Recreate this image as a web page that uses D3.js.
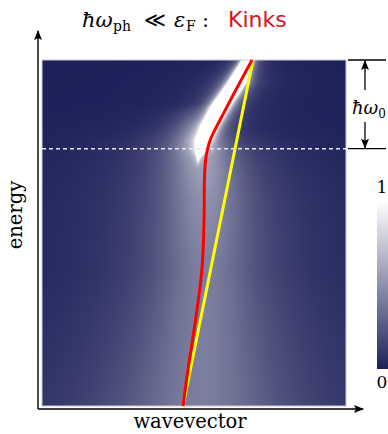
<!DOCTYPE html>
<html>
<head>
<meta charset="utf-8">
<script src="https://cdn.jsdelivr.net/npm/d3@7"></script>
<style>
  body { margin: 0; background: #fff; }
  svg { display: block; }
</style>
</head>
<body>
<div id="chart"></div>
<script>
// energies in units of the phonon energy, wavevector in arbitrary units
var omega0 = 1;
var energyRange = [-3.9, 0];
var kRange = [0, 1];

// bare band (yellow)
var bareK = [0.464, 0.694];
var bareE = [-3.9, 0];

// renormalised band with the kink (red)
var kinkE = [0, -0.259, -0.451, -0.643, -0.733, -0.812, -0.879, -0.947, -1.014, -1.105, -1.217, -1.409, -1.804, -2.367, -2.931, -3.494, -3.9];
var kinkK = [0.691, 0.650, 0.620, 0.591, 0.577, 0.565, 0.556, 0.549, 0.544, 0.539, 0.536, 0.534, 0.533, 0.526, 0.505, 0.480, 0.464];

// sharp quasiparticle part of the spectral weight (above the phonon energy)
var cohE = [0, -0.26, -0.53, -0.75, -0.90, -1.01, -1.10, -1.24];
var cohK = [0.676, 0.640, 0.586, 0.552, 0.534, 0.522, 0.515, 0.510];
var cohW = [0.019, 0.030, 0.032, 0.027, 0.021, 0.012, 0.005, 0];

// broad incoherent part (below the phonon energy)
var incE = [-0.50, -0.75, -0.90, -1.01, -1.18, -1.58, -2.37, -3.16, -3.9];
var incK = [0.500, 0.500, 0.510, 0.520, 0.528, 0.536, 0.536, 0.530, 0.520];
var incP = [0, 0.3, 0.5, 0.62, 0.58, 0.5, 0.42, 0.42, 0.42];
var incG = [0.060, 0.070, 0.085, 0.099, 0.115, 0.148, 0.181, 0.230, 0.280];

var colorTicks = ["0", "1"];

var width = 388, height = 434;
var mLeft = 42, mRight = 346, mTop = 60, mBottom = 406;

var svg = d3.select("#chart").append("svg")
  .attr("width", width).attr("height", height);

var x = d3.scaleLinear().domain(kRange).range([mLeft, mRight]);
var y = d3.scaleLinear().domain(energyRange).range([mBottom, mTop]);

var color = d3.interpolateRgb("#1e2159", "#ffffff");

// interpolators along energy
var cK = d3.scaleLinear().domain(cohE).range(cohK).clamp(true);
var cW = d3.scaleLinear().domain(cohE).range(cohW).clamp(true);
var iK = d3.scaleLinear().domain(incE).range(incK).clamp(true);
var iP = d3.scaleLinear().domain(incE).range(incP).clamp(true);
var iG = d3.scaleLinear().domain(incE).range(incG).clamp(true);

// draw the intensity map into a canvas
var cw = mRight - mLeft, ch = mBottom - mTop;
var canvas = document.createElement("canvas");
canvas.width = cw; canvas.height = ch;
var ctx = canvas.getContext("2d");
var img = ctx.createImageData(cw, ch);
var g0 = 0.006;
for (var j = 0; j < ch; j++) {
  var E = y.invert(mTop + j + 0.5);
  var k0 = cK(E), w = cW(E);
  var k1 = iK(E), p = iP(E), gam = iG(E);
  for (var i = 0; i < cw; i++) {
    var k = x.invert(mLeft + i + 0.5);
    var d0 = k - k0, d1 = k - k1;
    var v = w * w / (d0 * d0 + g0 * g0) + p * gam * gam / (d1 * d1 + gam * gam);
    var c = d3.rgb(color(Math.min(1, v)));
    var n = 4 * (j * cw + i);
    img.data[n] = c.r; img.data[n + 1] = c.g; img.data[n + 2] = c.b; img.data[n + 3] = 255;
  }
}
ctx.putImageData(img, 0, 0);

svg.append("image")
  .attr("x", mLeft).attr("y", mTop)
  .attr("width", cw).attr("height", ch)
  .attr("preserveAspectRatio", "none")
  .attr("href", canvas.toDataURL());

svg.append("rect")
  .attr("x", mLeft).attr("y", mTop)
  .attr("width", cw).attr("height", ch)
  .attr("fill", "none").attr("stroke", "#c9cad6").attr("stroke-width", 1);

// phonon energy line
svg.append("line")
  .attr("x1", mLeft).attr("x2", mRight)
  .attr("y1", y(-omega0)).attr("y2", y(-omega0))
  .attr("stroke", "#e6e6ee").attr("stroke-width", 1.6)
  .attr("stroke-dasharray", "4,3");

// bands
var line = d3.line()
  .x(function (d) { return x(d[0]); })
  .y(function (d) { return y(d[1]); });

svg.append("path")
  .datum(d3.zip(bareK, bareE))
  .attr("d", line)
  .attr("fill", "none").attr("stroke", "#ffff00").attr("stroke-width", 3);

svg.append("path")
  .datum(d3.zip(kinkK, kinkE))
  .attr("d", line.curve(d3.curveCatmullRom.alpha(0.5)))
  .attr("fill", "none").attr("stroke", "#ff0000").attr("stroke-width", 3);

// arrow heads
var defs = svg.append("defs");
defs.append("marker")
  .attr("id", "arr")
  .attr("viewBox", "0 0 10 8")
  .attr("refX", 9).attr("refY", 4)
  .attr("markerWidth", 10).attr("markerHeight", 8)
  .attr("markerUnits", "userSpaceOnUse")
  .attr("orient", "auto")
  .append("path").attr("d", "M0,0 L10,4 L0,8 L2,4 Z").attr("fill", "#000");

// axes
svg.append("line")
  .attr("x1", 38).attr("y1", 409).attr("x2", 38).attr("y2", 31)
  .attr("stroke", "#000").attr("stroke-width", 1.4).attr("marker-end", "url(#arr)");
svg.append("line")
  .attr("x1", 38).attr("y1", 409).attr("x2", 363).attr("y2", 409)
  .attr("stroke", "#000").attr("stroke-width", 1.4).attr("marker-end", "url(#arr)");

svg.append("text")
  .attr("x", 190).attr("y", 428)
  .attr("text-anchor", "middle")
  .attr("font-family", "DejaVu Serif").attr("font-size", 19.5)
  .text("wavevector");

svg.append("text")
  .attr("transform", "translate(22,215) rotate(-90)")
  .attr("text-anchor", "middle")
  .attr("font-family", "DejaVu Serif").attr("font-size", 19.5)
  .text("energy");

// ħω0 bracket
var bx = 365;
[y(0), y(-omega0)].forEach(function (yy) {
  svg.append("line")
    .attr("x1", 348).attr("x2", 386).attr("y1", yy).attr("y2", yy)
    .attr("stroke", "#000").attr("stroke-width", 1.3);
});
svg.append("line")
  .attr("x1", bx).attr("x2", bx).attr("y1", 90).attr("y2", y(0) + 1)
  .attr("stroke", "#000").attr("stroke-width", 1.3).attr("marker-end", "url(#arr)");
svg.append("line")
  .attr("x1", bx).attr("x2", bx).attr("y1", 122).attr("y2", y(-omega0) - 1)
  .attr("stroke", "#000").attr("stroke-width", 1.3).attr("marker-end", "url(#arr)");
var lab = svg.append("text")
  .attr("x", 352).attr("y", 114)
  .attr("font-family", "DejaVu Serif").attr("font-size", 18);
lab.append("tspan").attr("font-style", "italic").text("ħω");
lab.append("tspan").attr("font-size", 12).attr("dy", 4).text("0");

// title, pieces placed like the typeset formula
var title = svg.append("text")
  .attr("y", 27)
  .attr("font-family", "DejaVu Serif").attr("font-size", 21);
title.append("tspan").attr("x", 82).attr("font-style", "italic").text("ħω");
title.append("tspan").attr("x", 113).attr("font-size", 14).attr("dy", 4).text("ph");
title.append("tspan").attr("x", 144).attr("dy", -4).text("≪");
title.append("tspan").attr("x", 174).attr("font-style", "italic").text("ε");
title.append("tspan").attr("x", 186).attr("font-size", 14).attr("dy", 4).text("F");
title.append("tspan").attr("x", 202).attr("dy", -4).text(":");
title.append("tspan").attr("x", 228).attr("font-family", "DejaVu Sans").attr("font-size", 22)
  .attr("fill", "#d7141e").text("Kinks");

// colour bar
var cbTop = 201, cbBottom = 369, cbX = 377;
var cb = d3.scaleLinear().domain([0, 1]).range([cbBottom, cbTop]);
var grad = defs.append("linearGradient")
  .attr("id", "cbg").attr("x1", 0).attr("y1", 1).attr("x2", 0).attr("y2", 0);
d3.range(0, 1.01, 0.25).forEach(function (t) {
  grad.append("stop").attr("offset", t).attr("stop-color", color(t));
});
svg.append("rect")
  .attr("x", cbX).attr("y", cbTop)
  .attr("width", 20).attr("height", cbBottom - cbTop)
  .attr("fill", "url(#cbg)");
svg.selectAll(".cbt").data(colorTicks).enter().append("text")
  .attr("class", "cbt")
  .attr("x", 382)
  .attr("y", function (d) { return cb(+d) + (+d === 0 ? 19 : -8); })
  .attr("text-anchor", "middle")
  .attr("font-family", "DejaVu Serif").attr("font-size", 17)
  .text(function (d) { return d; });
</script>
</body>
</html>
